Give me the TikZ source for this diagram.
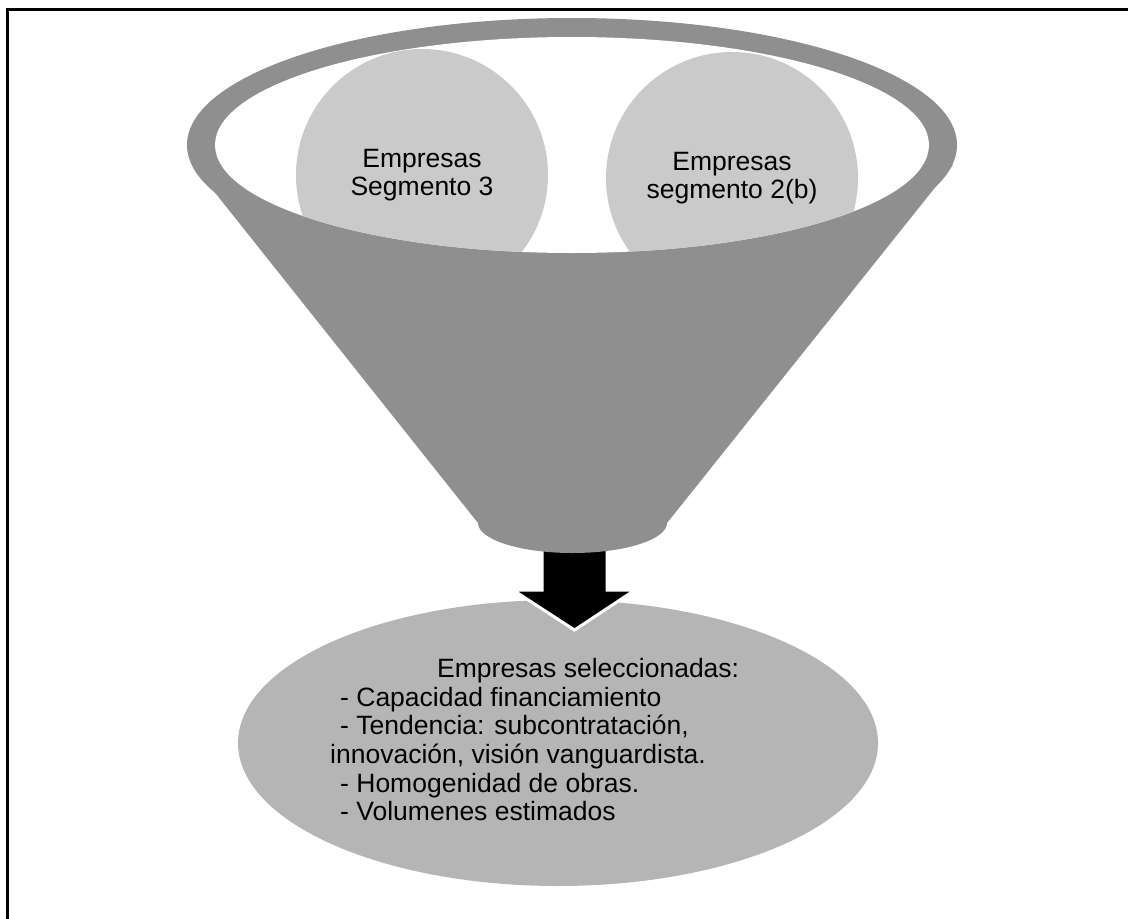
\documentclass[tikz,border=0pt]{standalone}
\usepackage{fontspec}
\setmainfont{Liberation Sans}
\usetikzlibrary{shapes.geometric}
\definecolor{funnelgray}{HTML}{8F8F8F}
\definecolor{segfill}{HTML}{CACACA}
\definecolor{selfill}{HTML}{B5B5B5}

\begin{document}
\begin{tikzpicture}[x=1pt, y=-1pt,
    segment/.style={circle, fill=segfill, minimum size=252pt, inner sep=0pt,
      align=center, font=\fontsize{26.5}{28}\selectfont},
    result/.style={ellipse, fill=selfill, minimum width=640pt,
      minimum height=286pt, inner sep=0pt}]
  \useasboundingbox (0,0) rectangle (1128,919);
  \clip (0,0) rectangle (1128,919);
  \draw[line width=3pt] (7,9) rectangle (1140,940);
  % selected companies
  \node[result] (sel) at (558,743) {};
  \node[anchor=north west, inner sep=0pt, align=left,
    font=\fontsize{26.5}{28.7}\selectfont] (seltext) at (330,658)
    {\hspace*{107pt}Empresas seleccionadas:\\
     \hspace*{10pt}- Capacidad financiamiento\\
     \hspace*{10pt}- Tendencia: subcontratación,\\
     innovación, visión vanguardista.\\
     \hspace*{10pt}- Homogenidad de obras.\\
     \hspace*{10pt}- Volumenes estimados};
  % block arrow
  \fill[black, draw=white, line width=3pt] (542,540) -- (607,540) -- (607,590)
    -- (635,590) -- (574.5,630) -- (513,590) -- (542,590) -- cycle;
  % funnel
  \fill[funnelgray] (572,145) ellipse [x radius=385, y radius=127];
  \fill[funnelgray] (193,165) -- (478,523)
    arc [start angle=180, end angle=0, x radius=94.5, y radius=30]
    -- (953,165) -- cycle;
  \fill[white] (572,145) ellipse [x radius=357, y radius=108];
  \begin{scope}
    \clip (215,145) arc [start angle=180, end angle=0, x radius=357, y radius=108]
      -- (929,0) -- (215,0) -- cycle;
    \node[segment] (seg3) at (422,175) {Empresas\\Segmento 3};
    \node[segment] (seg2b) at (732,178) {Empresas\\segmento 2(b)};
  \end{scope}
\end{tikzpicture}
\end{document}
